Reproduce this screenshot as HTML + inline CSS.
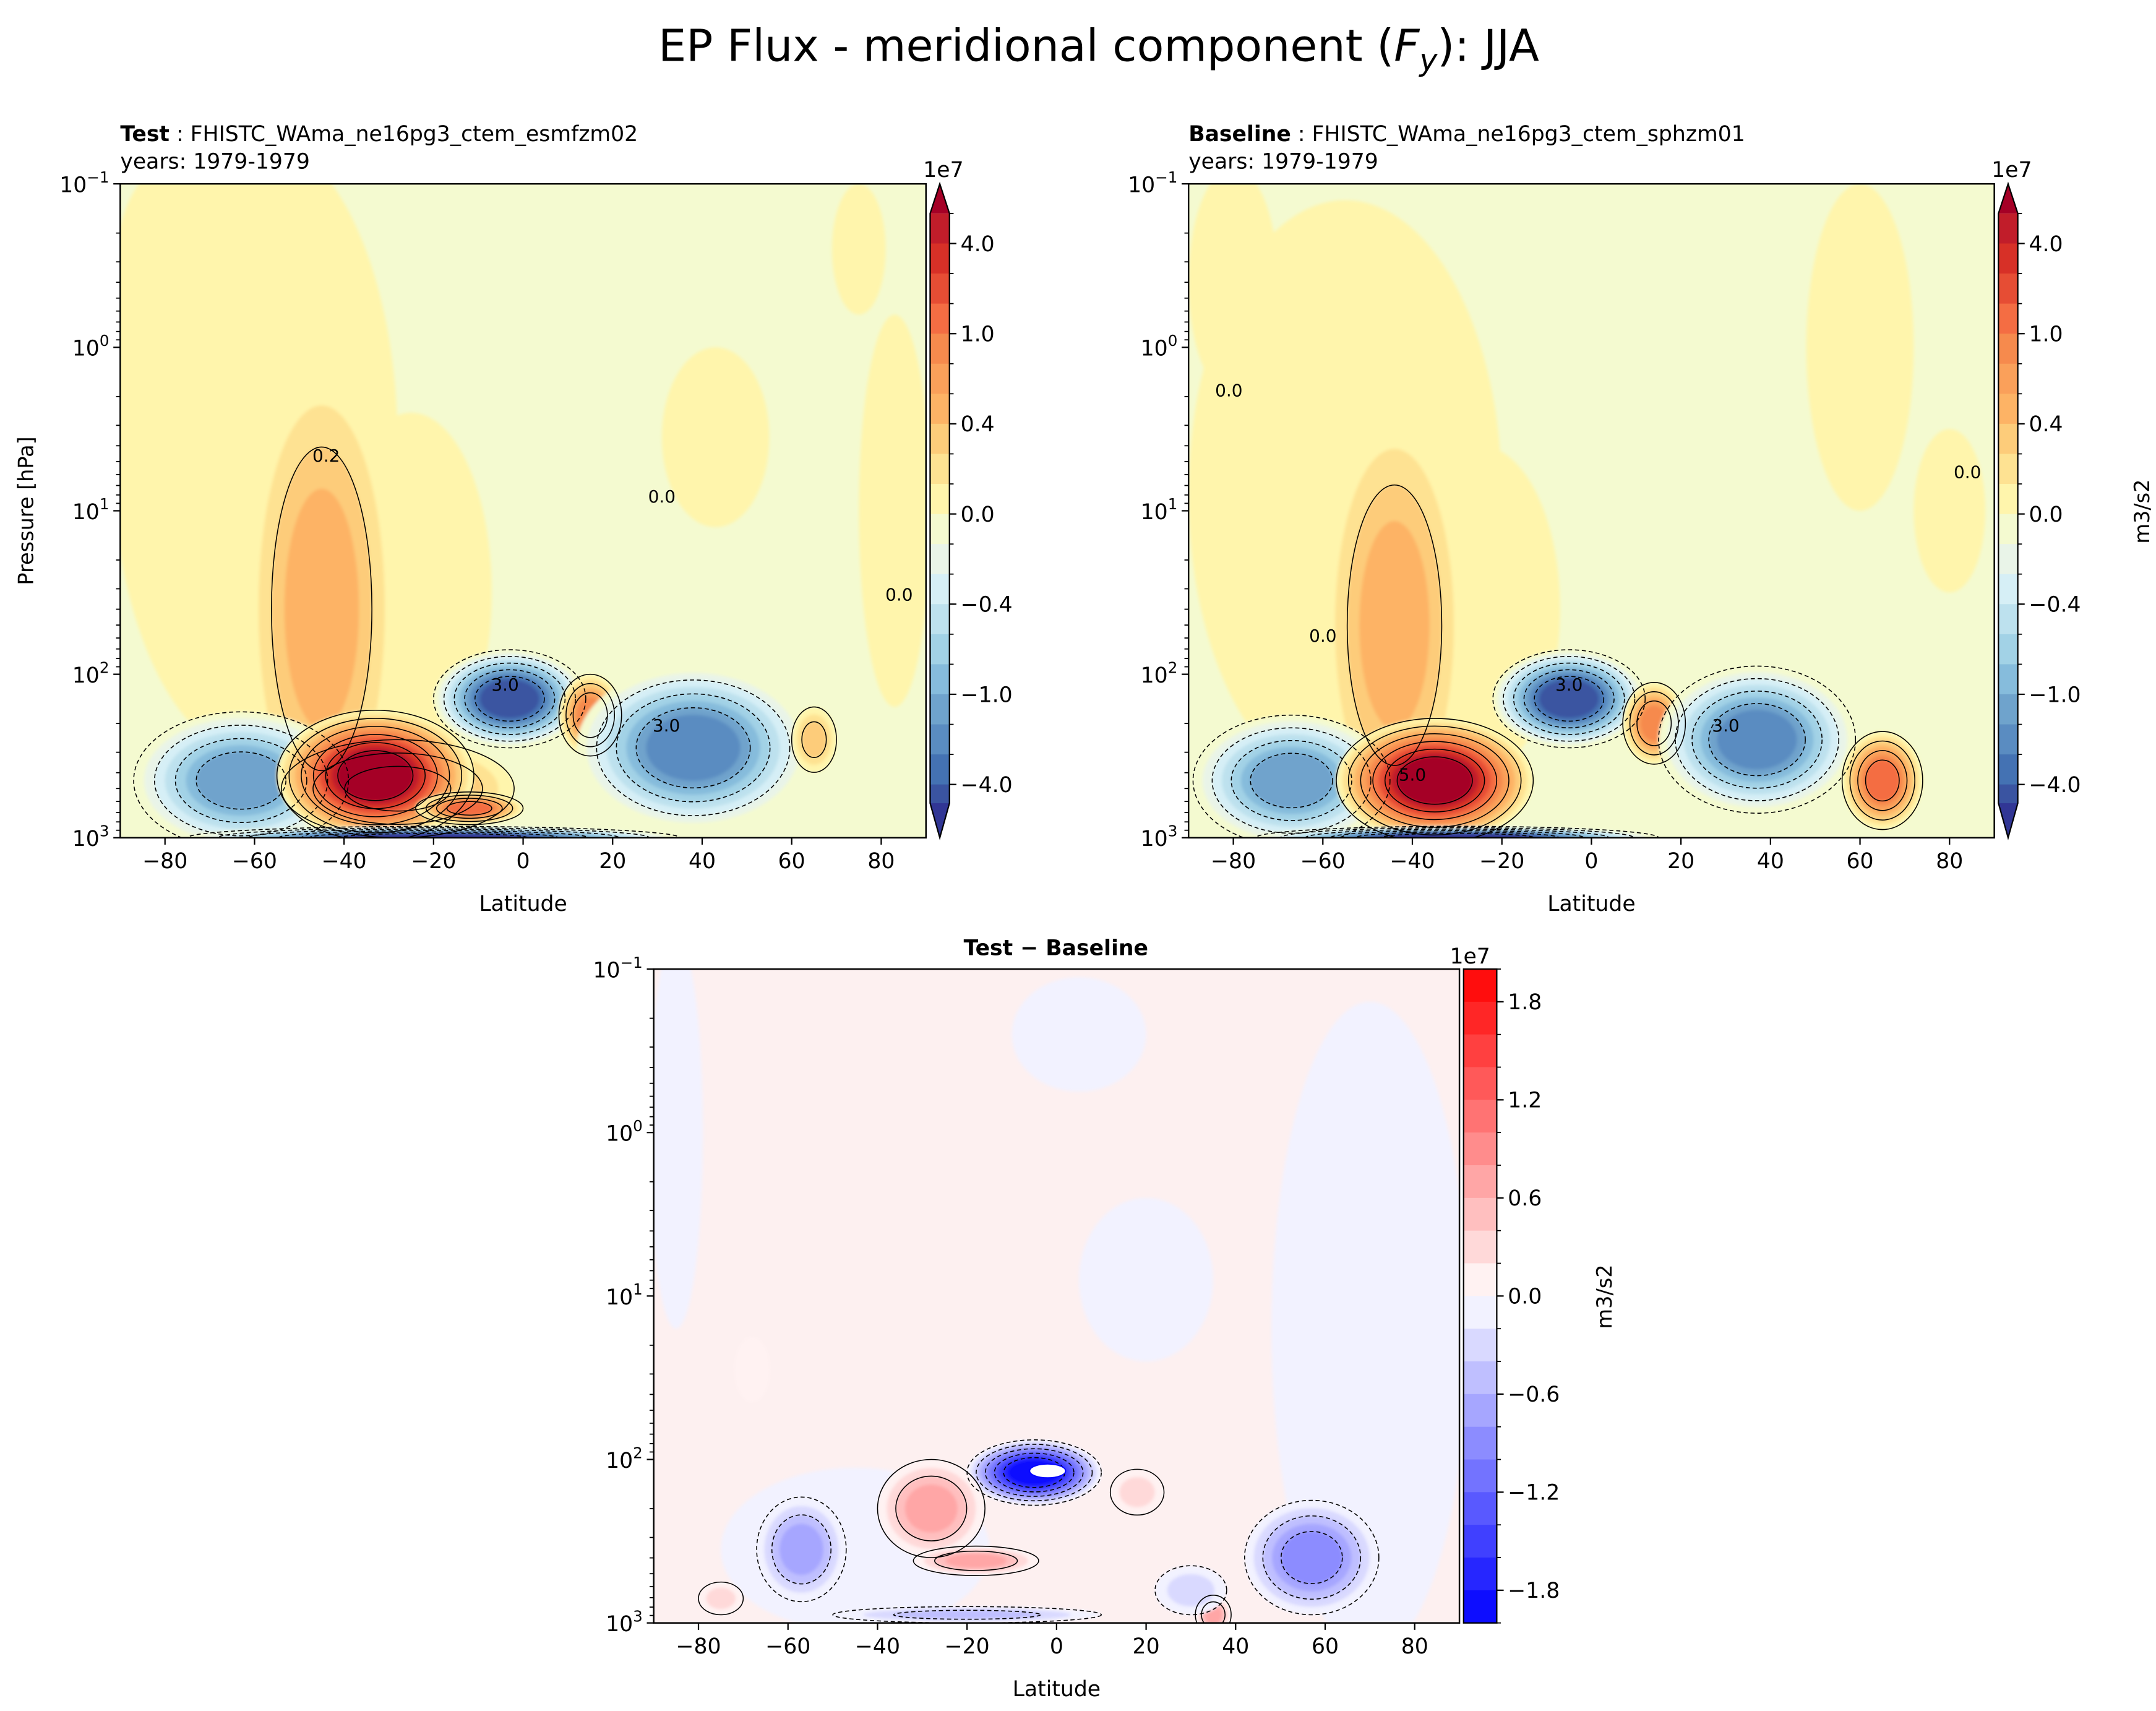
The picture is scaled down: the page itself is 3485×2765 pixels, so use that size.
<!DOCTYPE html>
<html><head><meta charset="utf-8"><style>
html,body{margin:0;padding:0;background:#fff;}
svg{display:block;font-family:"DejaVu Sans","Liberation Sans",sans-serif;}
</style></head><body>
<svg id="fig" xmlns="http://www.w3.org/2000/svg" width="3485" height="2765" viewBox="0 0 1560 1237.7">
<rect width="1560" height="1237.7" fill="#fff"/>
<defs>
<filter id="soft" x="-20%" y="-20%" width="140%" height="140%"><feGaussianBlur stdDeviation="1.2"/></filter>
</defs>
<text x="795" y="44" font-size="32" text-anchor="middle">EP Flux - meridional component (<tspan font-style="italic">F</tspan><tspan font-style="italic" font-size="22" dy="7">y</tspan><tspan dy="-7">): JJA</tspan></text>
<g id="root"></g>
</svg>
<script>
// ---------- data ----------
const xTickLabels = ["-80","-60","-40","-20","0","20","40","60","80"];
const xTickValues = [-80,-60,-40,-20,0,20,40,60,80];
const yTickExp = ["−1","0","1","2","3"];
const yTickValues = [-1,0,1,2,3];
const cbTickLabels = ["4.0","1.0","0.4","0.0","−0.4","−1.0","−4.0"];
const cbTickEdges = [1,4,7,10,13,16,19];
const diffTickLabels = ["1.8","1.2","0.6","0.0","−0.6","−1.2","−1.8"];
const diffTickValues = [1.8,1.2,0.6,0.0,-0.6,-1.2,-1.8];
const posColors = ["#fff5ac","#fee292","#fdcc7a","#fdb365","#faa05a","#f68a4d","#f46d43","#e64d34","#d73027","#c11d2a","#a50026"];
const negColors = ["#f4fad0","#e9f4e8","#d6eff6","#bde1ee","#a2d2e6","#86bcdc","#6fa3cc","#5a8cc1","#4472b3","#3a54a1","#313695"];

// Test panel features: lat, log10(p), level, half-width lat, half-width logp
const testLat   = [-60,-80,-25,43,83,75,-45,-63,-28,-33,-3,15,38,65,-20,-12];
const testLogP  = [0.6,-0.3,1.5,0.55,1.0,-0.6,1.6,2.65,2.7,2.62,2.15,2.25,2.45,2.4,3.0,2.82];
const testLevel = [1,1,1,1,1,1,4,-7,5,11,-10,6,-8,3,-11,7];
const testDLat  = [32,12,18,12,8,6,17,24,26,22,17,7,26,5,55,12];
const testDLogP = [1.9,0.8,1.1,0.55,1.2,0.4,1.5,0.42,0.3,0.4,0.3,0.25,0.5,0.2,0.07,0.1];

const baseLat   = [-55,-80,-25,60,80,-44,-67,-35,-5,14,37,65,-30];
const baseLogP  = [0.9,-0.4,1.6,0.0,1.0,1.7,2.65,2.65,2.15,2.3,2.4,2.65,3.0];
const baseLevel = [1,1,1,1,1,4,-7,11,-10,6,-8,7,-11];
const baseDLat  = [35,10,18,12,8,16,22,22,17,7,22,9,45];
const baseDLogP = [1.8,0.7,1.0,1.0,0.5,1.3,0.4,0.38,0.3,0.25,0.45,0.3,0.07];

const diffLat   = [70,5,-85,20,-45,-57,57,-5,-28,-18,18,-68,-20,35,-75,30];
const diffLogP  = [1.2,-0.6,0.0,0.9,2.55,2.55,2.6,2.08,2.3,2.62,2.2,1.45,2.95,2.95,2.85,2.8];
const diffLevel = [-1,-1,-1,-1,-1,-4,-5,-10,4,4,2,1,-3,4,2,-2];
const diffDLat  = [22,15,6,15,30,10,15,15,12,14,6,4,30,4,5,8];
const diffDLogP = [2.0,0.35,1.2,0.5,0.5,0.32,0.35,0.2,0.3,0.09,0.14,0.2,0.05,0.12,0.1,0.15];

// ---------- helpers ----------
const NS="http://www.w3.org/2000/svg";
const root=document.getElementById('root');
function mk(tag,attrs,parent){const e=document.createElementNS(NS,tag);for(const k in attrs)e.setAttribute(k,attrs[k]);(parent||root).appendChild(e);return e;}
function bwr(v){const t=Math.max(0,Math.min(1,(v+2)/4));let r,g,b;if(t<0.5){r=g=Math.round(510*t);b=255;}else{r=255;g=b=Math.round(255*(2-2*t));}return `rgb(${r},${g},${b})`;}
function rdColor(l){return l>0?posColors[Math.min(l,11)-1]:negColors[Math.min(-l,11)-1];}
function diffColor(l){return bwr((l>0?l-0.5:l+0.5)*0.2);}

function panel(id,x0,y0,w,h,lats,logps,levels,dlats,dlogps,bg,colorFn,withYLabel){
  const g=mk('g',{});
  
  
  const X=lat=>x0+(lat+90)/180*w;
  const Y=lp=>y0+(lp+1)/4*h;
  const cid=id+'-clip';
  const cp=mk('clipPath',{id:cid},g);mk('rect',{x:x0,y:y0,width:w,height:h},cp);
  const field=mk('g',{'clip-path':`url(#${cid})`},g);
  
  
  mk('rect',{x:x0,y:y0,width:w,height:h,fill:bg},field);
  const fill=mk('g',{filter:'url(#soft)'},field);
  const lines=mk('g',{},field);
  for(let i=0;i<lats.length;i++){
    const L=Math.abs(levels[i]),sg=Math.sign(levels[i]);
    for(let l=1;l<=L;l++){
      const s=1-(l-1)/L*0.68;
      const e=mk('ellipse',{cx:X(lats[i]),cy:Y(logps[i]),rx:dlats[i]/180*w*s,ry:dlogps[i]/4*h*s,fill:colorFn(sg*l)},fill);
      
      
      const big=dlogps[i]>0.45&&l===1;
      if(l%2===1&&!big&&L>1){
        const c=mk('ellipse',{cx:X(lats[i]),cy:Y(logps[i]),rx:dlats[i]/180*w*s,ry:dlogps[i]/4*h*s,fill:'none',stroke:'#000','stroke-width':0.7,'stroke-dasharray':sg<0?'3,2':'none'},lines);
        
        
      }
    }
  }
  mk('rect',{x:x0,y:y0,width:w,height:h,fill:'none',stroke:'#000','stroke-width':1.1},g);
  xTickValues.forEach((v,i)=>{
    const x=X(v);mk('line',{x1:x,x2:x,y1:y0+h,y2:y0+h+5,stroke:'#000','stroke-width':1},g);
    const t=mk('text',{x:x,y:y0+h+22,'font-size':15.5,'text-anchor':'middle'},g);
    t.textContent=xTickLabels[i].replace('-','−');
    
    
  });
  const xl=mk('text',{x:x0+w/2,y:y0+h+53,'font-size':15.5,'text-anchor':'middle'},g);
  xl.textContent='Latitude';
  
  
  yTickValues.forEach((v,i)=>{
    const y=Y(v);mk('line',{x1:x0-5,x2:x0,y1:y,y2:y,stroke:'#000','stroke-width':1},g);
    if(v<3){for(let m=2;m<10;m++){const ym=Y(v+Math.log10(m));mk('line',{x1:x0-3,x2:x0,y1:ym,y2:ym,stroke:'#000','stroke-width':0.8},g);}}
    const t=mk('text',{x:x0-8,y:y+6,'font-size':15.5,'text-anchor':'end'},g);
    t.innerHTML=`10<tspan font-size="11" dy="-7">${yTickExp[i]}</tspan>`;
    
    
  });
  if(withYLabel){
    const yl=mk('text',{x:0,y:0,'font-size':15,'text-anchor':'middle',transform:`translate(${x0-63},${y0+h/2}) rotate(-90)`},g);
    yl.textContent='Pressure [hPa]';
    
    
  }
  return {X,Y,g};
}

function rdColorbar(id,x,unitLabel){
  const g=mk('g',{});
  
  
  const w=14,top=154.4,bh=21.74,zero=top+10*bh,bot=581;
  for(let k=0;k<10;k++){mk('rect',{x:x,y:top+k*bh,width:w,height:bh+0.3,fill:posColors[9-k]},g);}
  for(let k=0;k<10;k++){const y=zero+k*bh;mk('rect',{x:x,y:y,width:w,height:Math.max(0,Math.min(bh,bot-y))+0.3,fill:negColors[k]},g);}
  mk('polygon',{points:`${x},${top} ${x+w/2},${133} ${x+w},${top}`,fill:'#a50026'},g);
  mk('polygon',{points:`${x},${bot} ${x+w/2},${606} ${x+w},${bot}`,fill:'#313695'},g);
  mk('polygon',{points:`${x},${top} ${x+w/2},${133} ${x+w},${top} ${x+w},${bot} ${x+w/2},${606} ${x},${bot}`,fill:'none',stroke:'#000','stroke-width':1},g);
  for(let k=0;k<=19;k++){const y=top+k*bh;mk('line',{x1:x+w,x2:x+w+3,y1:y,y2:y,stroke:'#000','stroke-width':0.8},g);}
  cbTickEdges.forEach((e,i)=>{const y=top+e*bh;mk('line',{x1:x+w,x2:x+w+5,y1:y,y2:y,stroke:'#000','stroke-width':1},g);
    const t=mk('text',{x:x+w+8,y:y+5.5,'font-size':15.5},g);t.textContent=cbTickLabels[i];
    
    });
  const e7=mk('text',{x:x-5,y:128,'font-size':15.5},g);e7.textContent='1e7';
  
  
  if(unitLabel){const u=mk('text',{x:0,y:0,'font-size':15,'text-anchor':'middle',transform:`translate(${x+w+95},370) rotate(-90)`},g);u.textContent='m3/s2';
    
    }
}

const p1=panel('test',87,133,583,473,testLat,testLogP,testLevel,testDLat,testDLogP,'#f4fad0',rdColor,true);
const p2=panel('baseline',860,133,583,473,baseLat,baseLogP,baseLevel,baseDLat,baseDLogP,'#f4fad0',rdColor,false);
const p3=panel('diff',473,701,583,473,diffLat,diffLogP,diffLevel,diffDLat,diffDLogP,'#fdf0f0',diffColor,false);
const wc=mk('ellipse',{cx:p3.X(-2),cy:p3.Y(2.07),rx:13,ry:5,fill:'#fff',stroke:'#00f','stroke-width':0.8},p3.g);



rdColorbar('test-colorbar',673,false);
rdColorbar('baseline-colorbar',1446,true);

function lab(p,lat,lp,txt,name){const t=mk('text',{x:p.X(lat),y:p.Y(lp),'font-size':12.5,'text-anchor':'middle'},p.g);t.textContent=txt;
  
  }
lab(p1,-44,0.7,'0.2','contour-label');lab(p1,31,0.95,'0.0','contour-label');lab(p1,84,1.55,'0.0','contour-label');
lab(p1,-4,2.1,'3.0','contour-label');lab(p1,32,2.35,'3.0','contour-label');
lab(p2,-81,0.3,'0.0','contour-label');lab(p2,-60,1.8,'0.0','contour-label');lab(p2,84,0.8,'0.0','contour-label');
lab(p2,-5,2.1,'3.0','contour-label');lab(p2,-40,2.65,'5.0','contour-label');lab(p2,30,2.35,'3.0','contour-label');

(function(){
  const g=mk('g',{});
  
  
  const x=1059,w=24,top=701,bot=1174,H=bot-top;
  const Yc=v=>top+(2-v)/4*H;
  for(let k=0;k<20;k++){const hi=2-k*0.2;mk('rect',{x:x,y:Yc(hi),width:w,height:H/20+0.3,fill:bwr(hi-0.1)},g);}
  mk('rect',{x:x,y:top,width:w,height:H,fill:'none',stroke:'#000','stroke-width':1},g);
  for(let k=0;k<=20;k++){const y=top+k*H/20;mk('line',{x1:x+w,x2:x+w+3,y1:y,y2:y,stroke:'#000','stroke-width':0.8},g);}
  diffTickValues.forEach((v,i)=>{const y=Yc(v);mk('line',{x1:x+w,x2:x+w+5,y1:y,y2:y,stroke:'#000','stroke-width':1},g);
    const t=mk('text',{x:x+w+8,y:y+5.5,'font-size':15.5},g);t.textContent=diffTickLabels[i];
    
    });
  const e7=mk('text',{x:x-10,y:697,'font-size':15.5},g);e7.textContent='1e7';
  
  
  const u=mk('text',{x:0,y:0,'font-size':15,'text-anchor':'middle',transform:`translate(1166,938) rotate(-90)`},g);u.textContent='m3/s2';
  
  
})();

function sub(x,bold,rest,name){const t=mk('text',{x:x,y:102,'font-size':15.5},root);t.innerHTML=`<tspan font-weight="bold">${bold}</tspan> : ${rest}`;
  
  
  const y=mk('text',{x:x,y:122,'font-size':15.5},root);y.textContent='years: 1979-1979';
  
  }
sub(87,'Test','FHISTC_WAma_ne16pg3_ctem_esmfzm02','test-subtitle');
sub(860,'Baseline','FHISTC_WAma_ne16pg3_ctem_sphzm01','baseline-subtitle');
const dt=mk('text',{x:764,y:691,'font-size':15.5,'font-weight':'bold','text-anchor':'middle'},root);dt.textContent='Test − Baseline';


</script>
</body></html>
